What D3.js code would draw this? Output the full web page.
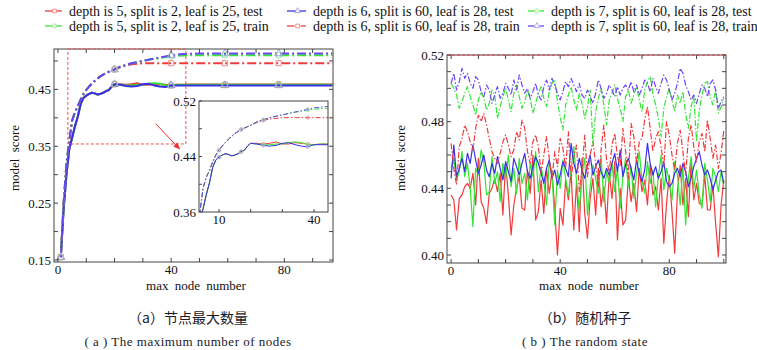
<!DOCTYPE html>
<html>
<head>
<meta charset="utf-8">
<script src="https://cdn.jsdelivr.net/npm/d3@7"></script>
<style>
  html, body { margin: 0; padding: 0; background: #fff; }
  svg { display: block; font-family: "Liberation Serif", "Times New Roman", serif; }
</style>
</head>
<body>
<svg id="chart" width="757" height="350"></svg>
<script>
/* Two panels: (a) score vs max node number, with a zoomed inset,
   (b) score vs random state. Six series each: three test / three train. */
(function () {
  'use strict';

  /* ---- legend ---- */
  var seriesNames = [
    'depth is 5, split is 2, leaf is 25, test',
    'depth is 5, split is 2, leaf is 25, train',
    'depth is 6, split is 60, leaf is 28, test',
    'depth is 6, split is 60, leaf is 28, train',
    'depth is 7, split is 60, leaf is 28, test',
    'depth is 7, split is 60, leaf is 28, train'
  ];

  /* ---- panel (a): max node number ---- */
  var leftX = [1, 2, 3, 4, 5, 6, 7, 8, 9, 10, 11, 12, 13, 14, 15, 16, 17, 18, 19, 20,
    22, 24, 26, 28, 30, 32, 34, 36, 38, 40, 42, 44, 46, 50, 59, 70, 78, 90, 97];
  var leftMarkX = [1, 20, 40, 59, 78];

  var leftTestRed = [0.155, 0.24, 0.30, 0.345, 0.365, 0.385, 0.402, 0.424, 0.435, 0.439,
    0.442, 0.444, 0.443, 0.441, 0.442, 0.444, 0.447, 0.449, 0.455, 0.459,
    0.459, 0.458, 0.459, 0.461, 0.458, 0.458, 0.460, 0.459, 0.458, 0.457,
    0.458, 0.458, 0.4585, 0.4585, 0.4585, 0.4585, 0.4585, 0.4585, 0.4585];
  var leftTestGreen = [0.155, 0.24, 0.30, 0.345, 0.365, 0.385, 0.402, 0.424, 0.435, 0.439,
    0.442, 0.444, 0.443, 0.441, 0.442, 0.444, 0.447, 0.449, 0.455, 0.459,
    0.458, 0.457, 0.457, 0.458, 0.458, 0.460, 0.461, 0.460, 0.457, 0.457,
    0.458, 0.458, 0.458, 0.458, 0.458, 0.458, 0.458, 0.458, 0.458];
  var leftTestBlue = [0.155, 0.24, 0.30, 0.345, 0.365, 0.385, 0.402, 0.424, 0.435, 0.439,
    0.442, 0.444, 0.443, 0.441, 0.442, 0.444, 0.447, 0.449, 0.455, 0.459,
    0.458, 0.456, 0.455, 0.456, 0.459, 0.460, 0.457, 0.455, 0.454, 0.457,
    0.457, 0.457, 0.457, 0.457, 0.457, 0.457, 0.457, 0.457, 0.457];
  var leftTrainRed = [0.155, 0.25, 0.32, 0.36, 0.395, 0.41, 0.42, 0.432, 0.442, 0.449,
    0.455, 0.460, 0.465, 0.469, 0.473, 0.476, 0.479, 0.481, 0.483, 0.485,
    0.489, 0.492, 0.494, 0.495, 0.496, 0.496, 0.496, 0.496, 0.496, 0.496,
    0.496, 0.496, 0.496, 0.496, 0.496, 0.496, 0.496, 0.496, 0.496];
  var leftTrainGreen = [0.155, 0.25, 0.32, 0.36, 0.395, 0.41, 0.42, 0.432, 0.442, 0.449,
    0.455, 0.460, 0.465, 0.469, 0.473, 0.476, 0.479, 0.481, 0.483, 0.485,
    0.490, 0.493, 0.496, 0.498, 0.500, 0.502, 0.504, 0.505, 0.507, 0.508,
    0.509, 0.5095, 0.510, 0.510, 0.510, 0.510, 0.510, 0.510, 0.510];
  var leftTrainPurple = [0.155, 0.25, 0.32, 0.36, 0.395, 0.41, 0.42, 0.432, 0.442, 0.449,
    0.455, 0.460, 0.465, 0.469, 0.473, 0.476, 0.479, 0.481, 0.483, 0.485,
    0.490, 0.493, 0.496, 0.498, 0.500, 0.502, 0.504, 0.506, 0.508, 0.510,
    0.511, 0.512, 0.5125, 0.513, 0.513, 0.513, 0.513, 0.513, 0.513];

  /* ---- panel (b): random state 0..100 ---- */
  var rightTestRed = [
    0.436, 0.433, 0.415, 0.434, 0.436, 0.441, 0.443, 0.440, 0.449, 0.430,
    0.458, 0.432, 0.428, 0.419, 0.437, 0.440, 0.446, 0.438, 0.449, 0.424,
    0.455, 0.436, 0.412, 0.430, 0.440, 0.447, 0.428, 0.427, 0.451, 0.437,
    0.460, 0.421, 0.426, 0.445, 0.425, 0.452, 0.437, 0.450, 0.428, 0.400,
    0.428, 0.418, 0.445, 0.433, 0.450, 0.415, 0.444, 0.414, 0.458, 0.425,
    0.410, 0.434, 0.446, 0.424, 0.452, 0.429, 0.441, 0.419, 0.449, 0.434,
    0.456, 0.409, 0.440, 0.418, 0.421, 0.447, 0.432, 0.443, 0.426, 0.452,
    0.438, 0.445, 0.430, 0.454, 0.436, 0.441, 0.427, 0.446, 0.407, 0.431,
    0.448, 0.426, 0.401, 0.438, 0.454, 0.430, 0.446, 0.423, 0.457, 0.433,
    0.443, 0.431, 0.430, 0.448, 0.427, 0.427, 0.442, 0.419, 0.399, 0.430,
    0.445];
  var rightTestGreen = [
    0.452, 0.458, 0.445, 0.450, 0.462, 0.447, 0.455, 0.440, 0.417, 0.452,
    0.448, 0.463, 0.456, 0.436, 0.438, 0.459, 0.443, 0.450, 0.432, 0.455,
    0.446, 0.460, 0.441, 0.452, 0.437, 0.458, 0.443, 0.449, 0.433, 0.455,
    0.447, 0.462, 0.438, 0.453, 0.444, 0.430, 0.456, 0.449, 0.418, 0.451,
    0.440, 0.457, 0.446, 0.436, 0.452, 0.465, 0.444, 0.427, 0.449, 0.458,
    0.424, 0.441, 0.454, 0.446, 0.437, 0.459, 0.432, 0.450, 0.443, 0.455,
    0.438, 0.452, 0.428, 0.447, 0.458, 0.441, 0.453, 0.434, 0.449, 0.462,
    0.445, 0.437, 0.456, 0.443, 0.451, 0.429, 0.447, 0.460, 0.439, 0.452,
    0.444, 0.433, 0.456, 0.448, 0.430, 0.453, 0.418, 0.446, 0.459, 0.440,
    0.451, 0.436, 0.428, 0.455, 0.445, 0.432, 0.452, 0.447, 0.438, 0.450,
    0.441];
  var rightTestBlue = [
    0.446, 0.466, 0.447, 0.452, 0.458, 0.450, 0.461, 0.455, 0.466, 0.457,
    0.449, 0.454, 0.460, 0.451, 0.447, 0.455, 0.449, 0.459, 0.452, 0.445,
    0.456, 0.450, 0.444, 0.458, 0.453, 0.448, 0.455, 0.461, 0.450, 0.446,
    0.453, 0.459, 0.455, 0.449, 0.443, 0.452, 0.457, 0.446, 0.451, 0.442,
    0.448, 0.456, 0.452, 0.447, 0.467, 0.455, 0.449, 0.458, 0.451, 0.446,
    0.454, 0.460, 0.448, 0.453, 0.457, 0.450, 0.446, 0.452, 0.448, 0.455,
    0.461, 0.450, 0.463, 0.447, 0.454, 0.458, 0.452, 0.445, 0.457, 0.449,
    0.444, 0.451, 0.467, 0.455, 0.448, 0.453, 0.446, 0.450, 0.456, 0.444,
    0.441, 0.443, 0.449, 0.452, 0.447, 0.455, 0.450, 0.441, 0.446, 0.453,
    0.458, 0.462, 0.454, 0.448, 0.451, 0.446, 0.439, 0.445, 0.450, 0.451,
    0.443];
  var rightTrainRed = [
    0.467, 0.452, 0.442, 0.465, 0.470, 0.478, 0.474, 0.468, 0.463, 0.476,
    0.484, 0.480, 0.485, 0.478, 0.470, 0.462, 0.458, 0.455, 0.461, 0.468,
    0.472, 0.466, 0.459, 0.463, 0.474, 0.469, 0.481, 0.476, 0.462, 0.455,
    0.468, 0.472, 0.465, 0.449, 0.460, 0.471, 0.458, 0.446, 0.462, 0.453,
    0.470, 0.464, 0.452, 0.474, 0.445, 0.459, 0.466, 0.438, 0.450, 0.472,
    0.447, 0.460, 0.468, 0.455, 0.441, 0.463, 0.478, 0.457, 0.450, 0.466,
    0.473, 0.459, 0.453, 0.476, 0.462, 0.447, 0.479, 0.471, 0.455, 0.468,
    0.470, 0.481, 0.489, 0.476, 0.462, 0.470, 0.474, 0.465, 0.453, 0.480,
    0.472, 0.460, 0.451, 0.467, 0.475, 0.462, 0.448, 0.470, 0.478, 0.465,
    0.456, 0.468, 0.473, 0.462, 0.481, 0.470, 0.458, 0.466, 0.452, 0.461,
    0.475];
  var rightTrainGreen = [
    0.503, 0.500, 0.496, 0.488, 0.492, 0.497, 0.501, 0.495, 0.490, 0.484,
    0.493, 0.498, 0.494, 0.487, 0.491, 0.499, 0.496, 0.482, 0.489, 0.495,
    0.500, 0.493, 0.486, 0.497, 0.502, 0.495, 0.488, 0.492, 0.499, 0.494,
    0.485, 0.491, 0.497, 0.501, 0.494, 0.489, 0.498, 0.503, 0.505, 0.492,
    0.483, 0.475, 0.490, 0.496, 0.501, 0.493, 0.487, 0.497, 0.491, 0.482,
    0.489, 0.499, 0.466, 0.486, 0.494, 0.500, 0.490, 0.478, 0.493, 0.497,
    0.502, 0.494, 0.488, 0.480, 0.495, 0.499, 0.491, 0.496, 0.501, 0.493,
    0.486, 0.499, 0.504, 0.507, 0.497, 0.490, 0.482, 0.471, 0.488, 0.495,
    0.500, 0.493, 0.486, 0.496, 0.491, 0.498, 0.485, 0.476, 0.489, 0.495,
    0.468, 0.487, 0.496, 0.503, 0.504, 0.495, 0.490, 0.499, 0.485, 0.489,
    0.494];
  var rightTrainPurple = [
    0.503, 0.509, 0.499, 0.504, 0.512, 0.506, 0.509, 0.503, 0.500, 0.507,
    0.505, 0.498, 0.495, 0.502, 0.499, 0.491, 0.496, 0.501, 0.494, 0.497,
    0.503, 0.500, 0.496, 0.505, 0.499, 0.508, 0.502, 0.497, 0.500, 0.494,
    0.498, 0.503, 0.496, 0.493, 0.501, 0.505, 0.499, 0.506, 0.502, 0.497,
    0.493, 0.498, 0.504, 0.501, 0.506, 0.502, 0.498, 0.503, 0.496, 0.494,
    0.499, 0.495, 0.491, 0.497, 0.505, 0.500, 0.494, 0.497, 0.502, 0.499,
    0.495, 0.501, 0.496, 0.500, 0.502, 0.499, 0.504, 0.498, 0.502, 0.496,
    0.500, 0.505, 0.503, 0.498, 0.506, 0.501, 0.497, 0.503, 0.508, 0.505,
    0.499, 0.493, 0.497, 0.503, 0.512, 0.509, 0.502, 0.498, 0.493, 0.496,
    0.491, 0.497, 0.502, 0.500, 0.495, 0.503, 0.505, 0.499, 0.488, 0.492,
    0.495];
  var rightX = d3.range(0, rightTestRed.length);

  /* ticks */
  var leftXTicks = [0, 10, 20, 30, 40, 50, 60, 70, 80, 90];
  var leftXLabels = [0, 40, 80];
  var leftYTicks = [0.15, 0.2, 0.25, 0.3, 0.35, 0.4, 0.45, 0.5];
  var leftYLabels = ['0.15', '0.25', '0.35', '0.45'];
  var insetXTicks = [10, 20, 30, 40];
  var insetXLabels = [10, 40];
  var insetYTicks = [0.36, 0.40, 0.44, 0.48, 0.52];
  var insetYLabels = ['0.36', '0.44', '0.52'];
  var rightXTicks = [0, 10, 20, 30, 40, 50, 60, 70, 80, 90, 100];
  var rightXLabels = [0, 40, 80];
  var rightYTicks = [0.40, 0.41, 0.42, 0.43, 0.44, 0.45, 0.46, 0.47, 0.48, 0.49, 0.50, 0.51, 0.52];
  var rightYLabels = ['0.40', '0.44', '0.48', '0.52'];

  /* styles for the six series: red/green/blue solid, red/green/purple dash-dot */
  var colors = ['#f23a3a', '#33e633', '#3a2fe6', '#f23a3a', '#33e633', '#6a45f5'];
  var markColors = ['#f08a8a', '#8aef8a', '#9a9ad8', '#f08a8a', '#8aef8a', '#a8a0e8'];
  var shapes = [d3.symbolSquare, d3.symbolCircle, d3.symbolTriangle,
                d3.symbolSquare, d3.symbolCircle, d3.symbolTriangle];
  var dashed = [false, false, false, true, true, true];

  var svg = d3.select('#chart');
  var ink = '#444';

  function frame(g, x, y, xt, yt, xl, yl, opts) {
    var x0 = x.range()[0], x1 = x.range()[1], y0 = y.range()[0], y1 = y.range()[1];
    var tl = opts.tick || 4;
    var fs = opts.fontSize || 13;
    g.append('rect').attr('x', x0).attr('y', y1).attr('width', x1 - x0).attr('height', y0 - y1)
      .attr('fill', 'none').attr('stroke', ink).attr('stroke-width', 1);
    xt.forEach(function (v) {
      g.append('line').attr('x1', x(v)).attr('x2', x(v)).attr('y1', y0).attr('y2', y0 - tl)
        .attr('stroke', ink);
      if (opts.mirror) {
        g.append('line').attr('x1', x(v)).attr('x2', x(v)).attr('y1', y1).attr('y2', y1 + tl)
          .attr('stroke', ink);
      }
    });
    yt.forEach(function (v) {
      g.append('line').attr('x1', x0).attr('x2', x0 + tl).attr('y1', y(v)).attr('y2', y(v))
        .attr('stroke', ink);
      if (opts.mirror) {
        g.append('line').attr('x1', x1).attr('x2', x1 - tl).attr('y1', y(v)).attr('y2', y(v))
          .attr('stroke', ink);
      }
    });
    xl.forEach(function (v) {
      g.append('text').attr('x', x(v)).attr('y', y0 + fs - 1).attr('text-anchor', 'middle')
        .style('font-size', fs + 'px').attr('fill', '#111').text(v);
    });
    yl.forEach(function (s) {
      g.append('text').attr('x', x0 - 3).attr('y', y(+s) + fs * 0.35).attr('text-anchor', 'end')
        .style('font-size', fs + 'px').attr('fill', '#111').text(s);
    });
  }

  function lines(g, xs, sets, x, y, width, dash, clipId) {
    var line = d3.line().x(function (d) { return x(d[0]); }).y(function (d) { return y(d[1]); });
    var lg = g.append('g').attr('clip-path', 'url(#' + clipId + ')');
    sets.forEach(function (vals, i) {
      var pts = xs.map(function (v, j) { return [v, vals[j]]; });
      lg.append('path').attr('d', line(pts)).attr('fill', 'none')
        .attr('stroke', colors[i]).attr('stroke-width', width)
        .attr('stroke-linejoin', 'round')
        .attr('stroke-dasharray', dashed[i] ? dash : null);
    });
    return lg;
  }

  function clip(id, x, y) {
    svg.append('clipPath').attr('id', id).append('rect')
      .attr('x', x.range()[0]).attr('y', y.range()[1])
      .attr('width', x.range()[1] - x.range()[0]).attr('height', y.range()[0] - y.range()[1]);
  }

  function axisTitles(cx, yx, ycy, bottom) {
    svg.append('text').attr('x', cx).attr('y', bottom)
      .attr('text-anchor', 'middle').style('font-size', '13px').style('word-spacing', '3px')
      .attr('fill', '#111').text('max node number');
    svg.append('text').attr('transform', 'translate(' + yx + ',' + ycy + ') rotate(-90)')
      .attr('text-anchor', 'middle').style('font-size', '13px').style('word-spacing', '3px')
      .attr('fill', '#111').text('model score');
  }

  /* ================= panel (a) ================= */
  var xL = d3.scaleLinear().domain([-1.4, 97.2]).range([54, 333]);
  var yL = d3.scaleLinear().domain([0.1465, 0.521]).range([262, 49]);
  clip('clipL', xL, yL);
  var leftSets = [leftTestRed, leftTestGreen, leftTestBlue, leftTrainRed, leftTrainGreen, leftTrainPurple];
  var gL = svg.append('g');
  var lgL = lines(gL, leftX, leftSets, xL, yL, 2, '9,3,2,3', 'clipL');

  /* markers on panel (a) */
  leftSets.forEach(function (vals, i) {
    leftMarkX.forEach(function (mx) {
      var j = leftX.indexOf(mx);
      lgL.append('path').attr('d', d3.symbol().type(shapes[i]).size(26)())
        .attr('transform', 'translate(' + xL(mx) + ',' + yL(vals[j]) + ')')
        .attr('fill', 'none').attr('stroke', markColors[i]).attr('stroke-width', 1);
    });
  });
  frame(gL, xL, yL, leftXTicks, leftYTicks, leftXLabels, leftYLabels, { mirror: true, tick: 4 });

  /* zoom region and arrow */
  var zoomBox = { x0: 3.5, x1: 45.2, y0: 0.354, y1: 0.521 };
  gL.append('rect')
    .attr('x', xL(zoomBox.x0)).attr('y', yL(zoomBox.y1))
    .attr('width', xL(zoomBox.x1) - xL(zoomBox.x0)).attr('height', yL(zoomBox.y0) - yL(zoomBox.y1))
    .attr('fill', 'none').attr('stroke', '#f05050').attr('stroke-width', 1)
    .attr('stroke-dasharray', '3,2');
  svg.append('defs').append('marker').attr('id', 'arr')
    .attr('viewBox', '0 0 10 10').attr('refX', 9).attr('refY', 5)
    .attr('markerWidth', 7).attr('markerHeight', 7).attr('orient', 'auto')
    .append('path').attr('d', 'M0,1 L10,5 L0,9 z').attr('fill', '#f03030');
  gL.append('line')
    .attr('x1', xL(34.5)).attr('y1', yL(0.390)).attr('x2', xL(43)).attr('y2', yL(0.345))
    .attr('stroke', '#f03030').attr('stroke-width', 1).attr('marker-end', 'url(#arr)');

  /* inset */
  var xI = d3.scaleLinear().domain([3.7, 44.4]).range([199, 328]);
  var yI = d3.scaleLinear().domain([0.36, 0.52]).range([212, 101]);
  clip('clipI', xI, yI);
  gL.append('rect').attr('x', 199).attr('y', 101).attr('width', 129).attr('height', 111)
    .attr('fill', '#fff');
  var lgI = lines(gL, leftX, leftSets, xI, yI, 1, '5,2,1.5,2', 'clipI');
  leftSets.forEach(function (vals, i) {
    leftX.forEach(function (mx, j) {
      if (mx % 7 !== 3) return;
      lgI.append('circle').attr('cx', xI(mx)).attr('cy', yI(vals[j])).attr('r', 1.6)
        .attr('fill', 'none').attr('stroke', markColors[i]).attr('stroke-width', 0.8);
    });
  });
  frame(gL, xI, yI, insetXTicks, insetYTicks, insetXLabels, insetYLabels, { mirror: false, tick: 3 });

  axisTitles(196, 19, 158, 290);

  /* ================= panel (b) ================= */
  var xR = d3.scaleLinear().domain([-1.5, 100.8]).range([447, 726]);
  var yR = d3.scaleLinear().domain([0.3952, 0.52]).range([263, 55]);
  clip('clipR', xR, yR);
  var gR = svg.append('g');
  lines(gR, rightX,
    [rightTestRed, rightTestGreen, rightTestBlue, rightTrainRed, rightTrainGreen, rightTrainPurple],
    xR, yR, 1.2, '6,2,1.5,2', 'clipR');
  frame(gR, xR, yR, rightXTicks, rightYTicks, rightXLabels, rightYLabels, { mirror: true, tick: 4 });
  gR.append('line').attr('x1', xR.range()[0]).attr('x2', xR.range()[1])
    .attr('y1', yR(0.52)).attr('y2', yR(0.52))
    .attr('stroke', '#e04040').attr('stroke-dasharray', '3,2');
  axisTitles(589, 405, 158, 290);

  /* ================= legend ================= */
  var legendPos = [
    { x: 45, y: 11, w: 17 }, { x: 45, y: 26, w: 17 },
    { x: 287, y: 11, w: 19 }, { x: 287, y: 26, w: 19 },
    { x: 528, y: 11, w: 16 }, { x: 528, y: 26, w: 16 }
  ];
  var lgd = svg.append('g');
  seriesNames.forEach(function (name, i) {
    var p = legendPos[i];
    if (dashed[i]) {
      lgd.append('line').attr('x1', p.x).attr('x2', p.x + p.w * 0.4).attr('y1', p.y).attr('y2', p.y)
        .attr('stroke', colors[i]).attr('stroke-width', 1.3);
      lgd.append('line').attr('x1', p.x + p.w * 0.72).attr('x2', p.x + p.w).attr('y1', p.y).attr('y2', p.y)
        .attr('stroke', colors[i]).attr('stroke-width', 1.3);
    } else {
      lgd.append('line').attr('x1', p.x).attr('x2', p.x + p.w).attr('y1', p.y).attr('y2', p.y)
        .attr('stroke', colors[i]).attr('stroke-width', 1.3);
    }
    lgd.append('path').attr('d', d3.symbol().type(shapes[i]).size(14)())
      .attr('transform', 'translate(' + (p.x + p.w * 0.56) + ',' + p.y + ')')
      .attr('fill', '#fff').attr('stroke', markColors[i]).attr('stroke-width', 0.9);
    lgd.append('text').attr('x', p.x + p.w + 7).attr('y', p.y + 4.5)
      .style('font-size', '14px').attr('fill', '#111').text(name);
  });

  /* ================= captions ================= */
  var captions = [
    { x: 188, cn: '（a）节点最大数量', en: '( a ) The maximum number of nodes' },
    { x: 585, cn: '（b）随机种子', en: '( b ) The random state' }
  ];
  captions.forEach(function (c) {
    svg.append('text').attr('x', c.x).attr('y', 323).attr('text-anchor', 'middle')
      .style('font-family', '"Noto Sans CJK SC", sans-serif').style('font-size', '14px')
      .attr('fill', '#1a1a2a').text(c.cn);
    svg.append('text').attr('x', c.x).attr('y', 346).attr('text-anchor', 'middle')
      .style('font-size', '13px').style('letter-spacing', '0.5px')
      .attr('fill', '#1a1a2a').text(c.en);
  });
})();
</script>
</body>
</html>
